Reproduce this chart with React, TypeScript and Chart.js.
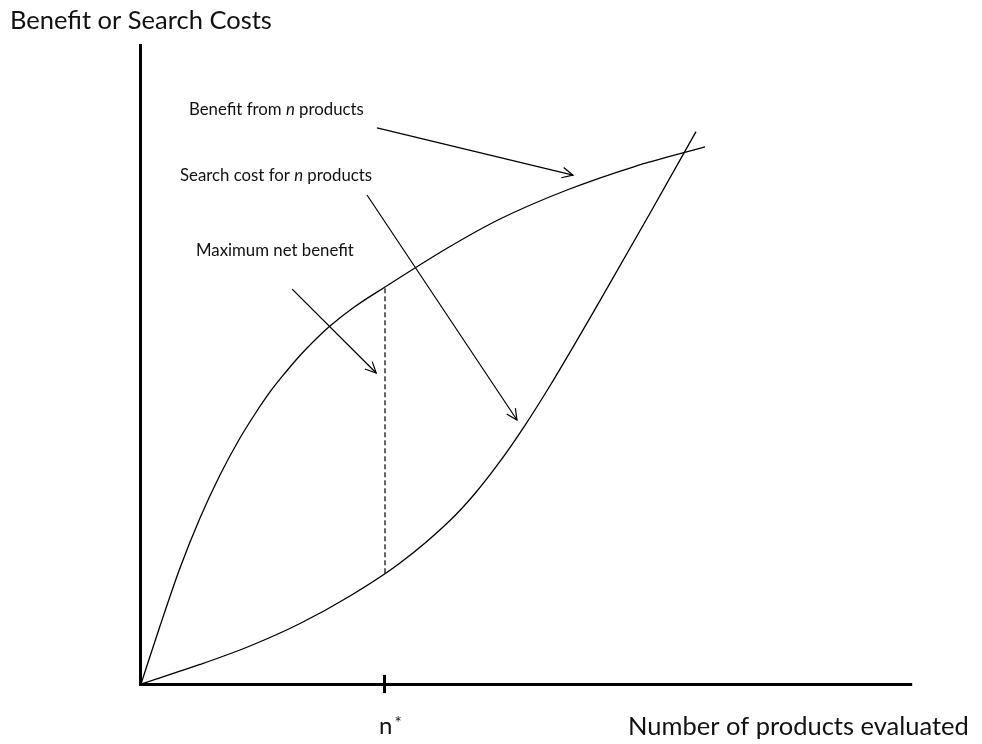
import { useEffect, useRef } from "react";
import { Chart, registerables } from "chart.js";

Chart.register(...registerables);

// Curves (x = number of products, y = benefit / cost)
const benefitX = [0, 2.375, 4.875, 7.375, 9.875, 12.375, 14.25, 16.125, 18.0, 19.875, 21.75, 23.625, 26.75, 30.5, 38.625, 44.875, 53.25, 61.5, 70.5];
const benefitY = [0, 9.06, 18.13, 25.94, 32.66, 38.44, 42.19, 45.63, 48.59, 51.33, 53.75, 55.94, 58.98, 62.03, 68.36, 72.66, 77.19, 80.78, 83.91];

const costX = [0, 7.375, 13.625, 19.875, 26.125, 32.375, 38.625, 41.75, 44.875, 48.0, 51.125, 57.375, 63.625, 69.375];
const costY = [0, 3.05, 5.94, 9.45, 13.75, 18.9, 25.55, 29.77, 34.77, 40.42, 46.6, 59.9, 73.55, 86.3];

// Optimum n*
const nStar = 30.5;
const netX = [nStar, nStar];
const netY = [17.3, 62.0];

// Annotation arrows [startX, startY, endX, endY]
const arrowBenefit = [29.5, 86.9, 54.0, 79.5];
const arrowCost = [28.25, 76.4, 47.0, 41.25];
const arrowMax = [18.9, 61.7, 29.4, 48.6];

// Annotation labels
const labelBenefit = ["Benefit from ", "n", " products"];
const labelCost = ["Search cost for ", "n", " products"];
const labelMax = ["Maximum net benefit"];
const labelPos = [
  [6.0, 88.9],
  [4.875, 78.6],
  [6.875, 66.9],
];

const yTitle = "Benefit or Search Costs";
const xTitle = "Number of products evaluated";
const nStarLabel = ["n", "*"];
const xAxisEnd = 96.4;

const FONT = "Lato, 'Open Sans', sans-serif";

export default function App() {
  const ref = useRef<HTMLCanvasElement>(null);

  useEffect(() => {
    const canvas = ref.current;
    if (!canvas) return;
    const pts = (xs: number[], ys: number[]) => xs.map((x, i) => ({ x, y: ys[i] }));
    const arrowDs = (a: number[]) => ({
      data: [
        { x: a[0], y: a[1] },
        { x: a[2], y: a[3] },
      ],
      showLine: true,
      borderColor: "#000",
      borderWidth: 1.2,
      pointRadius: 0,
      tension: 0,
      isArrow: true,
    });

    const annot = {
      id: "annot",
      afterDatasetsDraw(chart: any) {
        const ctx = chart.ctx as CanvasRenderingContext2D;
        const xs = chart.scales.x;
        const ys = chart.scales.y;
        const x0 = xs.getPixelForValue(0);
        const y0 = ys.getPixelForValue(0);
        const yTop = ys.getPixelForValue(100);
        ctx.save();
        // axes
        ctx.strokeStyle = "#000";
        ctx.lineWidth = 3;
        ctx.lineCap = "butt";
        ctx.beginPath();
        ctx.moveTo(x0 - 0.5, yTop);
        ctx.lineTo(x0 - 0.5, y0 + 2);
        ctx.moveTo(x0 - 2, y0 + 0.5);
        ctx.lineTo(xs.getPixelForValue(xAxisEnd), y0 + 0.5);
        ctx.stroke();
        // n* tick
        const nx = Math.round(xs.getPixelForValue(nStar));
        ctx.beginPath();
        ctx.moveTo(nx - 0.5, y0 - 9);
        ctx.lineTo(nx - 0.5, y0 + 9);
        ctx.stroke();

        // arrowheads
        ctx.lineWidth = 1.2;
        chart.data.datasets.forEach((ds: any, i: number) => {
          if (!ds.isArrow) return;
          const meta = chart.getDatasetMeta(i);
          const p0 = meta.data[0];
          const p1 = meta.data[1];
          const ang = Math.atan2(p1.y - p0.y, p1.x - p0.x);
          const len = 12;
          const spread = 0.45;
          ctx.beginPath();
          ctx.moveTo(p1.x - len * Math.cos(ang - spread), p1.y - len * Math.sin(ang - spread));
          ctx.lineTo(p1.x, p1.y);
          ctx.lineTo(p1.x - len * Math.cos(ang + spread), p1.y - len * Math.sin(ang + spread));
          ctx.stroke();
        });

        // labels
        ctx.fillStyle = "#111";
        ctx.textBaseline = "alphabetic";
        ctx.textAlign = "left";
        const drawRuns = (runs: string[], px: number, py: number, size: number) => {
          let cx = px;
          runs.forEach((t, k) => {
            const italic = runs.length > 1 && k === 1;
            ctx.font = `${italic ? "italic " : ""}${size}px ${FONT}`;
            ctx.fillText(t, cx, py);
            cx += ctx.measureText(t).width;
          });
        };
        const labels = [labelBenefit, labelCost, labelMax];
        labels.forEach((runs, k) => {
          drawRuns(runs, xs.getPixelForValue(labelPos[k][0]), ys.getPixelForValue(labelPos[k][1]), 16.8);
        });

        // axis titles
        ctx.font = `25.5px ${FONT}`;
        ctx.fillText(yTitle, 10, 29);
        ctx.fillText(xTitle, 628, 735);
        ctx.font = `24px ${FONT}`;
        ctx.fillText(nStarLabel[0], nx - 6, 734);
        const w = ctx.measureText(nStarLabel[0]).width;
        ctx.font = `17px ${FONT}`;
        ctx.fillText(nStarLabel[1], nx - 6 + w + 2, 729);
        ctx.restore();
      },
    };

    const chart = new Chart(canvas, {
      type: "scatter",
      data: {
        datasets: [
          {
            data: pts(benefitX, benefitY),
            showLine: true,
            borderColor: "#000",
            borderWidth: 1.3,
            pointRadius: 0,
            cubicInterpolationMode: "monotone",
          } as any,
          {
            data: pts(costX, costY),
            showLine: true,
            borderColor: "#000",
            borderWidth: 1.3,
            pointRadius: 0,
            cubicInterpolationMode: "monotone",
          } as any,
          {
            data: pts(netX, netY),
            showLine: true,
            borderColor: "#000",
            borderWidth: 1.2,
            borderDash: [5, 3],
            pointRadius: 0,
            tension: 0,
          } as any,
          arrowDs(arrowBenefit) as any,
          arrowDs(arrowCost) as any,
          arrowDs(arrowMax) as any,
        ],
      },
      options: {
        responsive: false,
        animation: false,
        devicePixelRatio: 1,
        layout: { padding: { left: 141, right: 41, top: 44, bottom: 60 } },
        scales: {
          x: { type: "linear", min: 0, max: 100, display: false },
          y: { type: "linear", min: 0, max: 100, display: false },
        },
        plugins: { legend: { display: false }, tooltip: { enabled: false } },
      },
      plugins: [annot],
    });
    return () => chart.destroy();
  }, []);

  return (
    <div style={{ position: "absolute", left: 0, top: 0, width: 982, height: 744, background: "#fff" }}>
      <canvas ref={ref} width={982} height={744} style={{ display: "block" }} />
    </div>
  );
}
